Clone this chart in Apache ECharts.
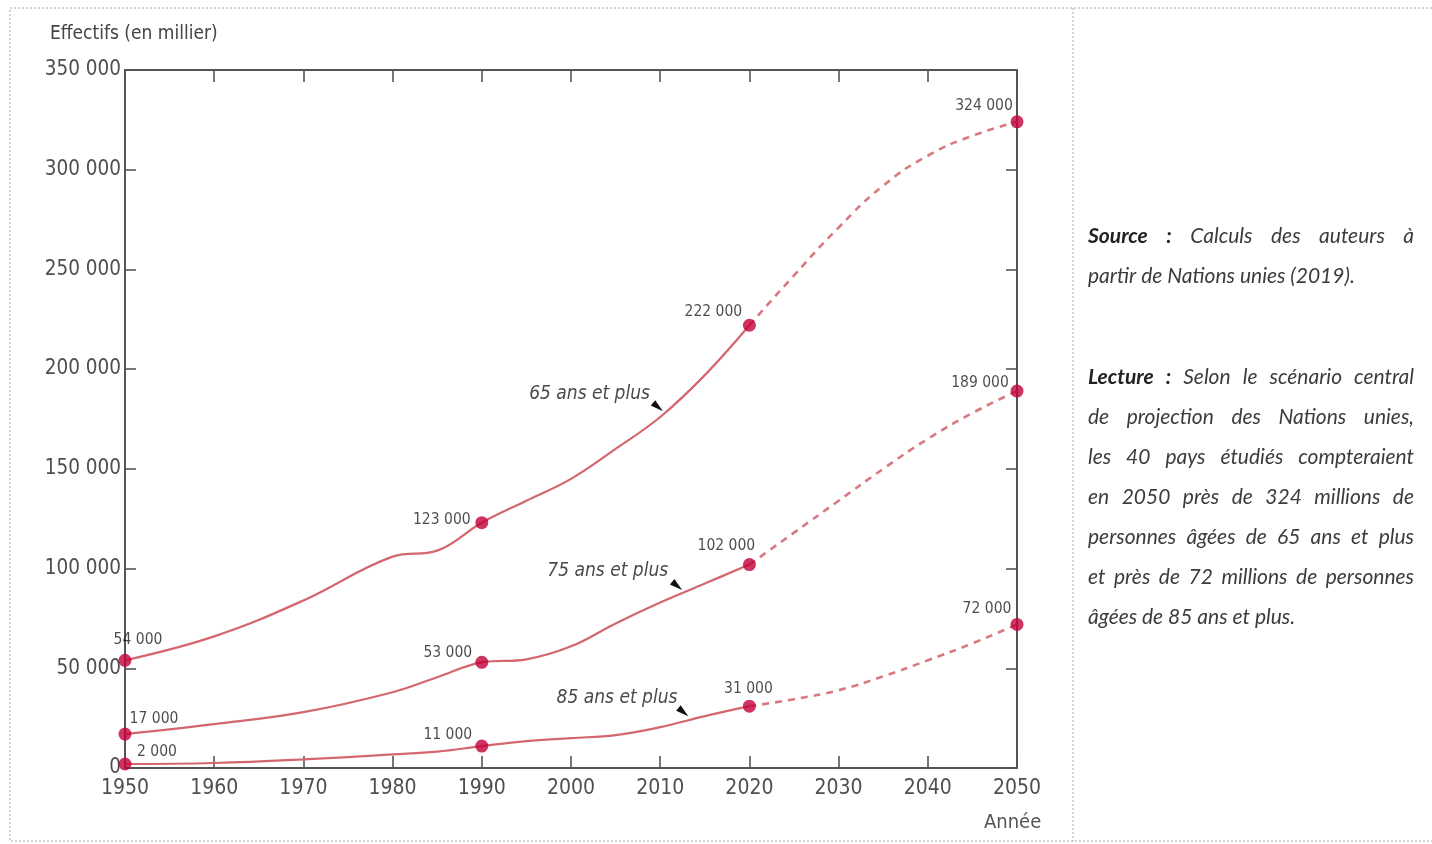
<!DOCTYPE html>
<html>
<head>
<meta charset="utf-8">
<script src="https://cdn.jsdelivr.net/npm/echarts@6/dist/echarts.min.js"></script>
<style>
html,body{margin:0;padding:0;background:#fff;}
#chart{width:1432px;height:844px;}
</style>
</head>
<body>
<div id="chart"></div>
<script>
// ---------- data ----------
const obsYears  = [1950, 1960, 1970, 1980, 1985, 1990, 1995, 2000, 2005, 2010, 2015, 2020];
const projYears = [2020, 2025, 2030, 2035, 2040, 2045, 2050];

const pop65Obs  = [54000, 66000, 84000, 106000, 109000, 123000, 134000, 145000, 160000, 176000, 197000, 222000];
const pop65Proj = [222000, 247000, 271000, 292000, 307000, 317000, 324000];
const pop75Obs  = [17000, 22000, 28000, 38000, 45500, 53000, 54500, 61000, 72500, 83000, 92500, 102000];
const pop75Proj = [102000, 118000, 134000, 150000, 165000, 178000, 189000];
const pop85Obs  = [2000, 2500, 4300, 6800, 8200, 11000, 13500, 15000, 16500, 20500, 26000, 31000];
const pop85Proj = [31000, 34500, 39000, 46000, 54000, 62500, 72000];

const markerYears = [1950, 1990, 2020, 2050];
const marker65 = [54000, 123000, 222000, 324000];
const marker75 = [17000, 53000, 102000, 189000];
const marker85 = [2000, 11000, 31000, 72000];

const groupNames = ['65 ans et plus', '75 ans et plus', '85 ans et plus'];
const yAxisTitle = 'Effectifs (en millier)';
const xAxisTitle = 'Année';

const sourceLines = ['Source : Calculs des auteurs à', 'partir de Nations unies (2019).'];
const lectureLines = [
  'Lecture : Selon le scénario central',
  'de projection des Nations unies,',
  'les 40 pays étudiés compteraient',
  'en 2050 près de 324 millions de',
  'personnes âgées de 65 ans et plus',
  'et près de 72 millions de personnes',
  'âgées de 85 ans et plus.'
];

// ---------- layout / style (not data) ----------
const labelOffsets = [
  [[13, -20], [-40, -3], [-36, -13], [-33, -16]],
  [[29, -15], [-34, -9], [-23, -19], [-37, -8]],
  [[32, -12], [-34, -11], [-1, -17], [-30, -15]]
];
const annotAnchors = [[2009.75, 181000], [2011.9, 91300], [2012.6, 28000]];
const annotOffsets = [[-8, -13], [-9, -15], [-6, -14]];

const NARROW = "'DejaVu Sans Condensed', 'Liberation Sans Narrow', sans-serif";
const LINE = '#d4666e';
const DASH = '#d87880';
const MARK = '#c3003a';
const AXIS = '#555';

const fmt = v => String(v).replace(/\B(?=(\d{3})+(?!\d))/g, ' ');
const zip = (xs, ys) => xs.map((x, i) => [x, ys[i]]);

const obsSets = [pop65Obs, pop75Obs, pop85Obs];
const projSets = [pop65Proj, pop75Proj, pop85Proj];
const markSets = [marker65, marker75, marker85];

const series = [];
groupNames.forEach((name, g) => {
  series.push({
    name: name, type: 'line', smooth: 0.4, symbol: 'none',
    data: zip(obsYears, obsSets[g]),
    lineStyle: {color: LINE, width: 2.2},
    z: 2,
    markPoint: {
      symbol: 'triangle', symbolSize: [7, 13], symbolRotate: -130,
      itemStyle: {color: '#111'},
      data: [{
        coord: annotAnchors[g],
        label: {
          show: true, formatter: name, position: 'inside',
          offset: annotOffsets[g], align: 'right', verticalAlign: 'middle',
          fontFamily: NARROW, fontStyle: 'italic', fontSize: 19, color: '#4a4a4a'
        }
      }]
    }
  });
  series.push({
    name: name + ' (projection)', type: 'line', smooth: 0.5, symbol: 'none',
    data: zip(projYears, projSets[g]),
    lineStyle: {color: DASH, width: 2.6, type: [7, 6]},
    z: 2
  });
  series.push({
    name: name + ' (points)', type: 'scatter', symbol: 'circle', symbolSize: 13,
    itemStyle: {color: MARK},
    z: 5,
    data: markerYears.map((y, i) => ({
      value: [y, markSets[g][i]],
      label: {
        show: true, position: 'inside', offset: labelOffsets[g][i],
        formatter: p => fmt(p.value[1]),
        fontFamily: NARROW, fontSize: 15.5, color: '#1e1e1e',
        align: 'center', verticalAlign: 'middle'
      }
    }))
  });
});

const xBase = {
  type: 'value', min: 1950, max: 2050, interval: 10,
  axisLine: {show: true, onZero: false, lineStyle: {color: AXIS, width: 2}},
  axisTick: {show: true, inside: true, length: 12, lineStyle: {color: AXIS, width: 1.6}},
  splitLine: {show: false}
};
const yBase = {
  type: 'value', min: 0, max: 350000, interval: 50000,
  axisLine: {show: true, onZero: false, lineStyle: {color: AXIS, width: 2}},
  axisTick: {show: true, inside: true, length: 11, lineStyle: {color: AXIS, width: 1.6}},
  splitLine: {show: false}
};

const chart = echarts.init(document.getElementById('chart'), null, {renderer: 'canvas'});

// right-hand justified text
const measure = document.createElement('canvas').getContext('2d');
const TX0 = 1088, TW = 326, FS = 21, TFONT = 'Lato';
function textLine(line, yc, justify, boldCount) {
  const words = line.split(' ');
  const fonts = words.map((w, i) => (i < boldCount ? 'italic bold ' : 'italic ') + FS + 'px ' + TFONT);
  const widths = words.map((w, i) => { measure.font = fonts[i]; return measure.measureText(w).width; });
  const total = widths.reduce((a, b) => a + b, 0);
  measure.font = 'italic ' + FS + 'px ' + TFONT;
  const sp = measure.measureText(' ').width;
  const gap = (justify && words.length > 1) ? (TW - total) / (words.length - 1) : sp;
  let x = TX0;
  return words.map((w, i) => {
    const el = {
      type: 'text', x: x, y: yc,
      style: {
        text: w, fontFamily: TFONT, fontStyle: 'italic', fontSize: FS,
        fontWeight: i < boldCount ? 'bold' : 'normal',
        fill: i < boldCount ? '#222' : '#3c3c3c',
        verticalAlign: 'middle', align: 'left'
      }
    };
    x += widths[i] + gap;
    return el;
  });
}
const textEls = [];
sourceLines.forEach((l, i) => {
  textEls.push(...textLine(l, 236 + i * 40, i < sourceLines.length - 1, i === 0 ? 2 : 0));
});
lectureLines.forEach((l, i) => {
  textEls.push(...textLine(l, 377 + i * 40, i < lectureLines.length - 1, i === 0 ? 2 : 0));
});

const option = {
  animation: false,
  backgroundColor: '#fff',
  title: [
    {text: yAxisTitle, left: 45, top: 20,
     textStyle: {fontFamily: NARROW, fontSize: 19, fontWeight: 'normal', color: '#444'}},
    {text: xAxisTitle, left: 979, top: 808,
     textStyle: {fontFamily: NARROW, fontSize: 20, fontWeight: 'normal', color: '#555'}}
  ],
  grid: {left: 125, right: 415, top: 70, bottom: 76, containLabel: false},
  xAxis: [
    Object.assign({}, xBase, {position: 'bottom',
      axisLabel: {show: true, margin: 10, fontFamily: NARROW, fontSize: 21, color: '#4f4f4f',
        formatter: v => String(v)}}),
    Object.assign({}, xBase, {position: 'top', axisLabel: {show: false}})
  ],
  yAxis: [
    Object.assign({}, yBase, {position: 'left',
      axisLabel: {show: true, margin: 4, fontFamily: NARROW, fontSize: 20.5, color: '#4f4f4f',
        formatter: v => fmt(v)}}),
    Object.assign({}, yBase, {position: 'right', axisLabel: {show: false}})
  ],
  series: series,
  graphic: [
    {type: 'polyline', silent: true, shape: {points: [[1432, 8], [10, 8], [10, 841], [1432, 841]]},
     style: {stroke: '#a8a8a8', lineWidth: 1, lineDash: [2, 2], fill: null}},
    {type: 'line', silent: true, shape: {x1: 1073, y1: 8, x2: 1073, y2: 841},
     style: {stroke: '#a8a8a8', lineWidth: 1, lineDash: [2, 2]}}
  ].concat(textEls)
};
chart.setOption(option);
</script>
</body>
</html>
